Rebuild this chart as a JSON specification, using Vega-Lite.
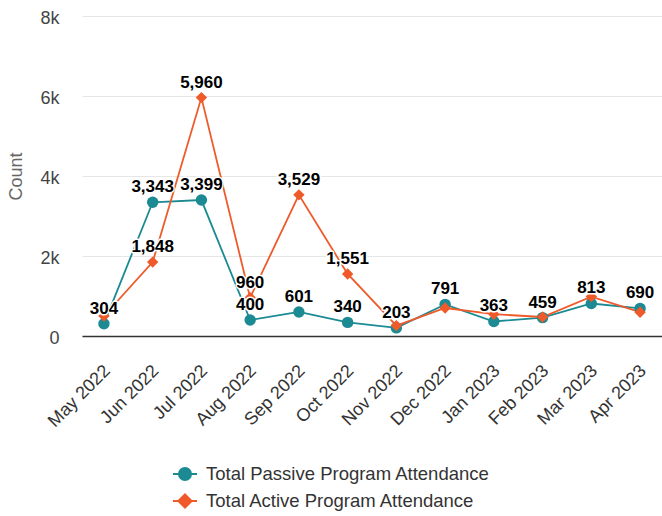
{
  "$schema": "https://vega.github.io/schema/vega-lite/v6.json",
  "autosize": "none",
  "width": 580,
  "height": 320,
  "padding": {"left": 82, "top": 16, "right": 0, "bottom": 180},
  "background": "white",
  "config": {
    "font": "Liberation Sans",
    "view": {"stroke": null}
  },
  "data": {
    "values": [
      {"Month": "May 2022", "Passive": 304, "Active": 500},
      {"Month": "Jun 2022", "Passive": 3343, "Active": 1848},
      {"Month": "Jul 2022", "Passive": 3399, "Active": 5960},
      {"Month": "Aug 2022", "Passive": 400, "Active": 960},
      {"Month": "Sep 2022", "Passive": 601, "Active": 3529},
      {"Month": "Oct 2022", "Passive": 340, "Active": 1551},
      {"Month": "Nov 2022", "Passive": 203, "Active": 260},
      {"Month": "Dec 2022", "Passive": 791, "Active": 700},
      {"Month": "Jan 2023", "Passive": 363, "Active": 545},
      {"Month": "Feb 2023", "Passive": 459, "Active": 475},
      {"Month": "Mar 2023", "Passive": 813, "Active": 985},
      {"Month": "Apr 2023", "Passive": 690, "Active": 595}
    ]
  },
  "transform": [
    {"fold": ["Passive", "Active"], "as": ["key", "Count"]},
    {"calculate": "datum.key === 'Passive' ? 'Total Passive Program Attendance' : 'Total Active Program Attendance'", "as": "Series"}
  ],
  "encoding": {
    "x": {
      "field": "Month", "type": "ordinal", "sort": null,
      "scale": {"type": "point", "padding": 0.45},
      "axis": {
        "title": null, "labelAngle": -45, "labelAlign": "right", "labelBaseline": "middle",
        "labelFontSize": 18, "labelColor": "#333333", "labelPadding": 32, "labelOffset": 3,
        "ticks": false, "grid": false, "domainColor": "#333333", "domainWidth": 1.5
      }
    },
    "y": {
      "field": "Count", "type": "quantitative",
      "scale": {"domain": [0, 8000], "nice": false},
      "axis": {
        "title": "Count", "titleFontSize": 18, "titleColor": "#666666", "titleFontWeight": "normal", "titlePadding": 14,
        "values": [0, 2000, 4000, 6000, 8000],
        "labelExpr": "datum.value === 0 ? '0' : (datum.value / 1000) + 'k'",
        "labelFontSize": 18, "labelColor": "#444444", "labelPadding": 23, "labelOffset": 2,
        "domain": false, "ticks": false, "gridColor": "#e6e6e6", "gridWidth": 1.2
      }
    },
    "color": {
      "field": "Series", "type": "nominal",
      "scale": {"domain": ["Total Passive Program Attendance", "Total Active Program Attendance"], "range": ["#1b8a93", "#ef5a2a"]},
      "legend": {
        "title": null, "orient": "none", "legendX": 90, "legendY": 445, "direction": "vertical",
        "labelFontSize": 18.5, "labelColor": "#333333", "labelOffset": 8, "rowPadding": 4, "labelLimit": 500,
        "symbolSize": 576, "symbolStrokeWidth": 2,
        "encode": {
          "symbols": {
            "update": {
              "shape": {"signal": "datum.value === 'Total Passive Program Attendance' ? 'M-1,0H1M-0.5,0A0.5,0.5 0 1,1 0.5,0A0.5,0.5 0 1,1 -0.5,0Z' : 'M-1,0H1M0,-0.55L0.55,0L0,0.55L-0.55,0Z'"},
              "fill": {"scale": "color", "field": "value"},
              "stroke": {"scale": "color", "field": "value"},
              "strokeWidth": {"value": 2},
              "size": {"value": 576},
              "opacity": {"value": 1}
            }
          }
        }
      }
    }
  },
  "layer": [
    {"mark": {"type": "line", "strokeWidth": 1.8}},
    {
      "transform": [{"filter": "datum.key === 'Passive'"}],
      "mark": {"type": "point", "filled": true, "opacity": 1, "size": 130, "shape": "circle"}
    },
    {
      "transform": [{"filter": "datum.key === 'Active'"}],
      "mark": {"type": "point", "filled": true, "opacity": 1, "size": 130, "shape": "diamond"}
    },
    {
      "transform": [{"filter": "datum.key === 'Passive' || abs(datum.Active - datum.Passive) > 400"}],
      "mark": {"type": "text", "dy": -15, "fontSize": 17, "fontWeight": "bold", "stroke": "white", "strokeWidth": 3, "strokeJoin": "round", "fill": "white"},
      "encoding": {"text": {"field": "Count", "type": "quantitative", "format": ","}, "color": {"value": "white"}}
    },
    {
      "transform": [{"filter": "datum.key === 'Passive' || abs(datum.Active - datum.Passive) > 400"}],
      "mark": {"type": "text", "dy": -15, "fontSize": 17, "fontWeight": "bold", "fill": "black"},
      "encoding": {"text": {"field": "Count", "type": "quantitative", "format": ","}, "color": {"value": "black"}}
    }
  ]
}
